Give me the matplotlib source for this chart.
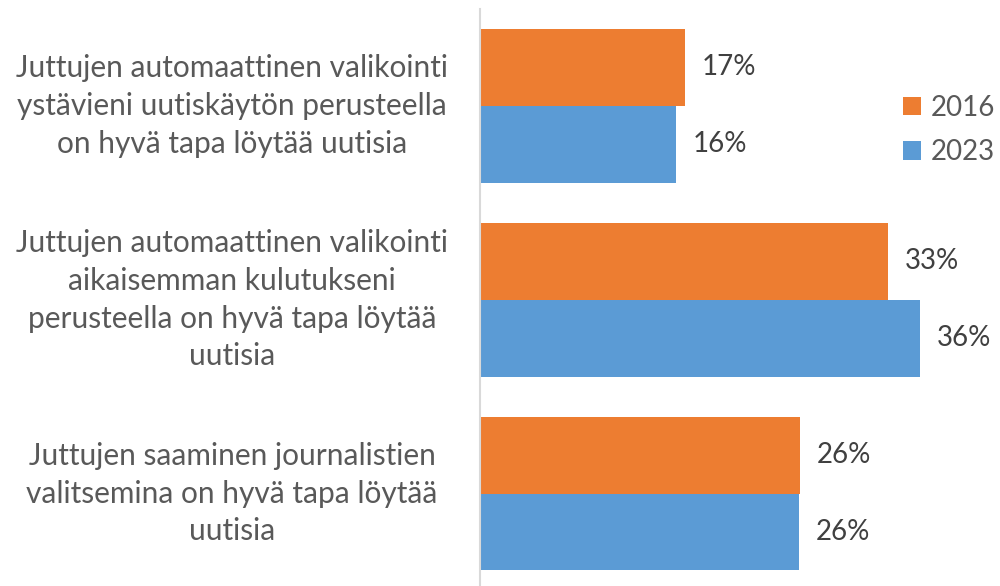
import matplotlib
matplotlib.use("Agg")
import matplotlib.pyplot as plt
import numpy as np

# data
categories = [
    "Juttujen automaattinen valikointi\nystävieni uutiskäytön perusteella\non hyvä tapa löytää uutisia",
    "Juttujen automaattinen valikointi\naikaisemman kulutukseni\nperusteella on hyvä tapa löytää\nuutisia",
    "Juttujen saaminen journalistien\nvalitsemina on hyvä tapa löytää\nuutisia",
]
series_names = ["2016", "2023"]
values_2016 = [16.8, 33.4, 26.2]
values_2023 = [16.0, 36.0, 26.1]

colors = ["#ED7D31", "#5B9BD5"]
label_color = "#595959"
value_color = "#404040"

plt.rcParams['font.family'] = ['Lato', 'DejaVu Sans']

fig = plt.figure(figsize=(10, 5.86), dpi=100)
ax = fig.add_axes([0.480, 0.0, 0.489, 577 / 586])

y = np.arange(len(categories))
h = 0.397

bars_a = ax.barh(y - h / 2, values_2016, height=h, color=colors[0], label=series_names[0])
bars_b = ax.barh(y + h / 2, values_2023, height=h, color=colors[1], label=series_names[1])

for bars in (bars_a, bars_b):
    for b in bars:
        ax.annotate(f"{b.get_width():.0f}%",
                    xy=(b.get_width(), b.get_y() + b.get_height() / 2),
                    xytext=(12, 0), textcoords="offset points",
                    ha="left", va="center", fontsize=20, color=value_color)

ax.set_xlim(0, 40)
ax.set_ylim(2.477, -0.5)
ax.set_xticks([])
ax.set_yticks([])
for side in ("top", "right", "bottom"):
    ax.spines[side].set_visible(False)
ax.spines["left"].set_color("#D9D9D9")
ax.spines["left"].set_linewidth(1.5)

# category labels, centred in the space left of the axis
for yi, cat in zip(y, categories):
    x_px, y_px = ax.transData.transform((0, yi))
    fig.text(232 / 1000, y_px / fig.bbox.height, cat,
             ha="center", va="center", multialignment="center",
             fontsize=21.5, color=label_color, linespacing=1.42)

leg = fig.legend(loc="center left", bbox_to_anchor=(0.903, 1 - 130 / 586),
                 frameon=False, fontsize=20, handlelength=0.65, handleheight=0.65,
                 handletextpad=0.35, labelspacing=0.68, borderaxespad=0, borderpad=0)
for t in leg.get_texts():
    t.set_color(label_color)

fig.savefig("out.png", dpi=100)
